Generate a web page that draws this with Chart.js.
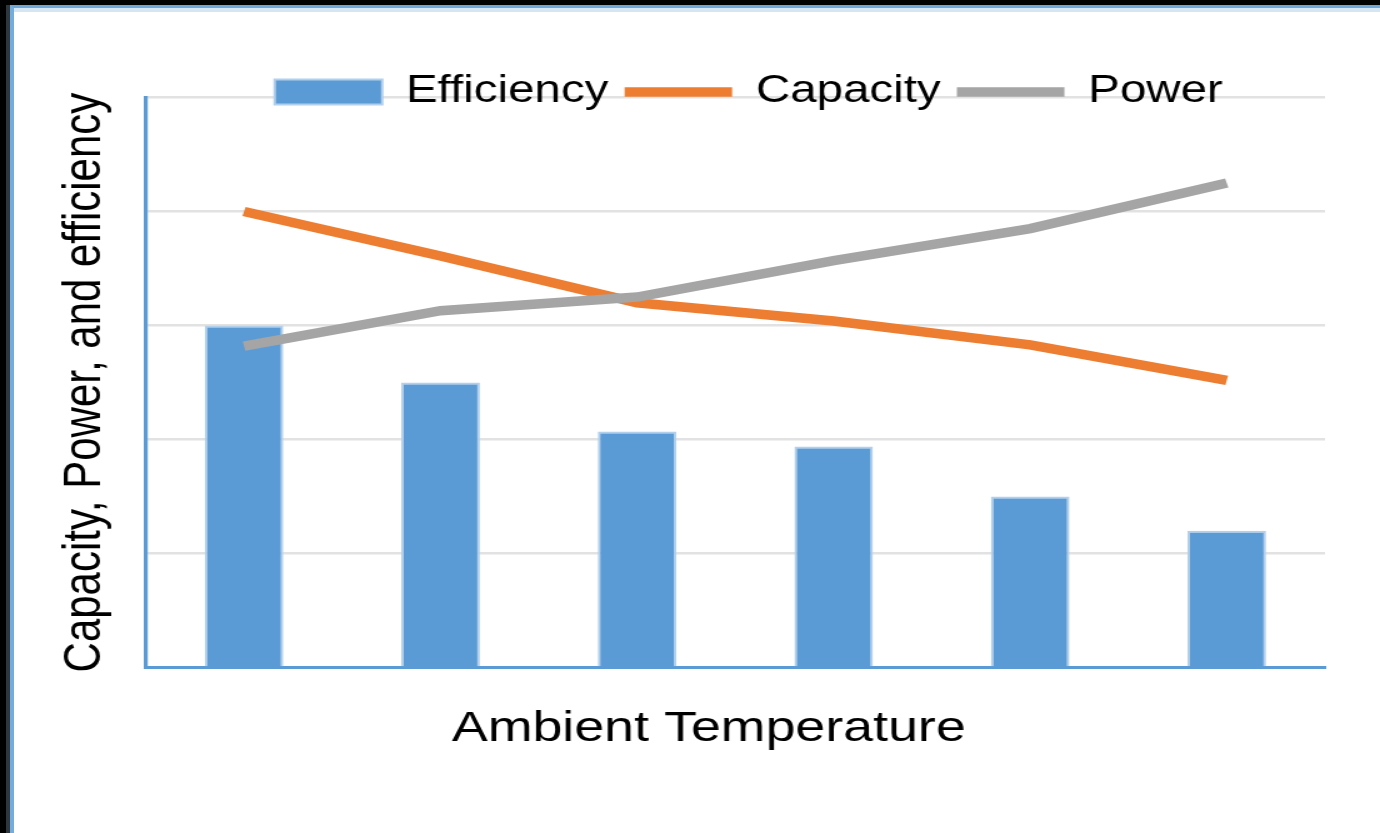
<!DOCTYPE html>
<html>
<head>
<meta charset="utf-8">
<script src="https://cdn.jsdelivr.net/npm/chart.js@4.4.1/dist/chart.umd.min.js"></script>
<style>
  html, body { margin: 0; padding: 0; background: #000; overflow: hidden; }
  body { width: 1380px; height: 833px; position: relative; }
  #frame { position: absolute; left: 6px; top: 5px; right: 0; bottom: 0; background: #2e363e; }
  #paper {
    position: absolute; left: 4px; top: 0; right: 0; bottom: 0;
    background: #fff;
    border-left: 4px solid #74acdc;
    border-top: 3px solid #6ea6d8;
    box-shadow: inset 0 4px 0 #d5e5f3;
  }
  /* the source picture is stretched sideways, so the canvas is too */
  #chart { position: absolute; left: 0; top: 0; transform: scaleX(1.25); transform-origin: 0 0; }
</style>
</head>
<body>
<div id="frame"><div id="paper"></div></div>
<canvas id="chart"></canvas>
<script>
// temperature steps (no tick labels are shown in the picture)
const categories = ['T1', 'T2', 'T3', 'T4', 'T5', 'T6']
const efficiency = [3.0, 2.5, 2.07, 1.94, 1.5, 1.2]
const capacity = [4.0, 3.61, 3.2, 3.04, 2.83, 2.52]
const power = [2.82, 3.13, 3.25, 3.57, 3.85, 4.25]
const yTicks = [0, 1, 2, 3, 4, 5]

const SX = 1.25
const W = Math.round(1380 / SX)
const H = 833
const FONT = "'Liberation Sans', Arial, sans-serif"
const LEGEND_SIZE = 38
const LEGEND_MID = { x: 599, y: 92 }   // where the legend row sits (canvas px)
const XTITLE_MID = 567                 // x title is not centred on the plot

const canvas = document.getElementById('chart')
canvas.width = W
canvas.height = H

// move legend / bottom title to where the picture has them
const nudge = {
  id: 'nudge',
  afterLayout(chart) {
    const lg = chart.legend
    const pad = lg.options.labels.padding
    const dy = LEGEND_MID.y - (lg.top + pad + LEGEND_SIZE / 2)
    const dx = LEGEND_MID.x - (lg.left + lg.right) / 2
    lg.top += dy; lg.bottom += dy
    lg.left += dx; lg.right += dx
    const tb = chart.titleBlock
    const tx = XTITLE_MID - (tb.left + tb.right) / 2
    tb.left += tx; tb.right += tx
  }
}

new Chart(canvas, {
  data: {
    labels: categories,
    datasets: [{
      type: 'line',
      label: 'Power',
      data: power,
      borderColor: '#a5a5a5',
      borderWidth: 9.5,
      tension: 0,
      pointRadius: 0,
      pointStyle: 'line',
      pointBorderColor: '#a5a5a5',
      pointBackgroundColor: '#a5a5a5',
      pointBorderWidth: 9.5
    }, {
      type: 'line',
      label: 'Capacity',
      data: capacity,
      borderColor: '#ed7d31',
      borderWidth: 9.5,
      tension: 0,
      pointRadius: 0,
      pointStyle: 'line',
      pointBorderColor: '#ed7d31',
      pointBackgroundColor: '#ed7d31',
      pointBorderWidth: 9.5
    }, {
      type: 'bar',
      label: 'Efficiency',
      data: efficiency,
      backgroundColor: '#5b9bd5',
      borderColor: '#b2cfeb',
      borderWidth: 2,
      pointStyle: 'rect',
      categoryPercentage: 1,
      barPercentage: 0.4
    }]
  },
  options: {
    responsive: false,
    maintainAspectRatio: false,
    devicePixelRatio: 1,
    animation: false,
    layout: { padding: { left: 10, right: 44, top: 36.5, bottom: 78 } },
    scales: {
      x: {
        type: 'category',
        offset: true,
        ticks: { display: false },
        grid: { display: false, drawTicks: false },
        border: { display: true, color: '#5b9bd5', width: 3 }
      },
      y: {
        min: 0,
        max: 5,
        afterBuildTicks: (axis) => { axis.ticks = yTicks.map(v => ({ value: v })) },
        ticks: { display: false },
        grid: { color: '#e2e2e2', lineWidth: 2.5, drawTicks: false },
        border: { display: true, color: '#5b9bd5', width: 3.2 },
        title: {
          display: true,
          text: 'Capacity, Power, and efficiency',
          color: '#000',
          font: { family: FONT, size: 42 },
          padding: { top: 33, bottom: 23.2 }
        }
      }
    },
    plugins: {
      tooltip: { enabled: false },
      legend: {
        position: 'top',
        reverse: true,
        labels: {
          usePointStyle: true,
          pointStyleWidth: 86,
          boxHeight: 25,
          padding: 13,
          color: '#000',
          font: { family: FONT, size: LEGEND_SIZE }
        }
      },
      title: {
        display: true,
        position: 'bottom',
        text: 'Ambient Temperature',
        color: '#000',
        font: { family: FONT, size: 43, weight: 'normal' },
        padding: { top: 35.8, bottom: 0 }
      }
    }
  },
  plugins: [nudge]
})
</script>
</body>
</html>
